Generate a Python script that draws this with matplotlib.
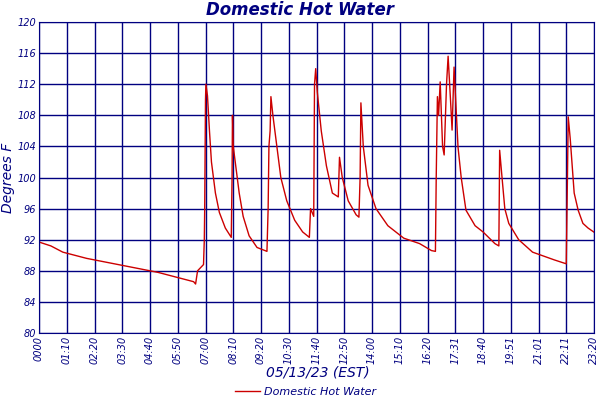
import matplotlib.pyplot as plt
from matplotlib.lines import Line2D

# minutes after midnight, degrees F
minutes = [0, 30, 60, 120, 180, 240, 300, 360, 390, 395, 400, 415, 417, 418, 420, 421, 425, 430, 435,
           445, 455, 470, 485, 487, 488, 490, 495, 505, 515, 530, 550, 575, 578, 580, 583, 585, 590,
           600, 610, 625, 645, 665, 682, 685, 693, 695, 698, 702, 712, 725, 740, 755, 758, 765, 780,
           800, 807, 810, 812, 818, 830, 850, 880, 920, 960, 990, 1000, 1002, 1005, 1008, 1012, 1018,
           1022, 1028, 1032, 1038, 1042, 1047, 1053, 1057, 1065, 1077, 1100, 1120, 1150, 1160, 1162,
           1168, 1175, 1185, 1210, 1245, 1300, 1330, 1333, 1335, 1340, 1350, 1360, 1372, 1385, 1402]
temps = [91.7, 91.2, 90.4, 89.6, 89.0, 88.4, 87.8, 87.0, 86.6, 86.3, 88.0, 88.8, 92, 96, 110, 112,
         110.5, 106, 102, 98, 95.5, 93.5, 92.3, 100, 108, 104, 102, 98, 95, 92.5, 91, 90.5, 96, 104,
         106, 110.4, 108, 104, 100, 97, 94.5, 93, 92.3, 96, 95, 112, 114, 111, 106, 101.5, 98, 97.5,
         102.6, 100, 97, 95.2, 94.9, 100, 109.6, 104, 99, 96, 93.8, 92.2, 91.5, 90.6, 90.5, 100,
         110.4, 108, 112.3, 104, 102.9, 112, 115.6, 110, 106.1, 114.2, 108, 103.9, 100, 95.8, 93.8,
         93, 91.5, 91.2, 103.5, 100, 96, 94.1, 92, 90.4, 89.4, 88.9, 100, 107.8, 105, 98, 95.8, 94.1,
         93.5, 92.9]
tick_labels = ['0000', '01:10', '02:20', '03:30', '04:40', '05:50', '07:00', '08:10', '09:20',
               '10:30', '11:40', '12:50', '14:00', '15:10', '16:20', '17:31', '18:40', '19:51',
               '21:01', '22:11', '23:20']
yticks = list(range(80, 121, 4))

navy = '#000080'
fig = plt.figure(figsize=(6, 4), dpi=100)
ax = fig.add_axes([0.065, 0.1675, 0.925, 0.7775])
ax.plot(minutes, temps, color='#cc0000', lw=1)
ax.set_xlim(0, 1400)
ax.set_ylim(80, 120)
ax.set_xticks([70 * i for i in range(len(tick_labels))])
ax.set_xticklabels(tick_labels, rotation=90, fontsize=7, style='italic', color=navy)
ax.set_yticks(yticks)
ax.set_yticklabels([str(v) for v in yticks], fontsize=7, style='italic', color=navy)
ax.grid(True, color=navy, lw=1)
ax.set_axisbelow(True)
ax.tick_params(length=0, pad=2)
for s in ax.spines.values():
    s.set_color(navy)

fig.text(0.5, 0.975, 'Domestic Hot Water', ha='center', va='center', fontsize=12,
         style='italic', weight='bold', color=navy)
ax.set_ylabel('Degrees F', fontsize=10, style='italic', color=navy, labelpad=2)
fig.text(0.53, 0.07, '05/13/23 (EST)', ha='center', va='center', fontsize=10,
         style='italic', color=navy)
handle = Line2D([], [], color='#cc0000', lw=1)
fig.legend([handle], ['Domestic Hot Water'], loc='center', bbox_to_anchor=(0.51, 0.02),
           frameon=False, prop={'size': 8, 'style': 'italic'}, labelcolor=navy,
           handlelength=2.2, handletextpad=0.4)
fig.savefig('out.png')
